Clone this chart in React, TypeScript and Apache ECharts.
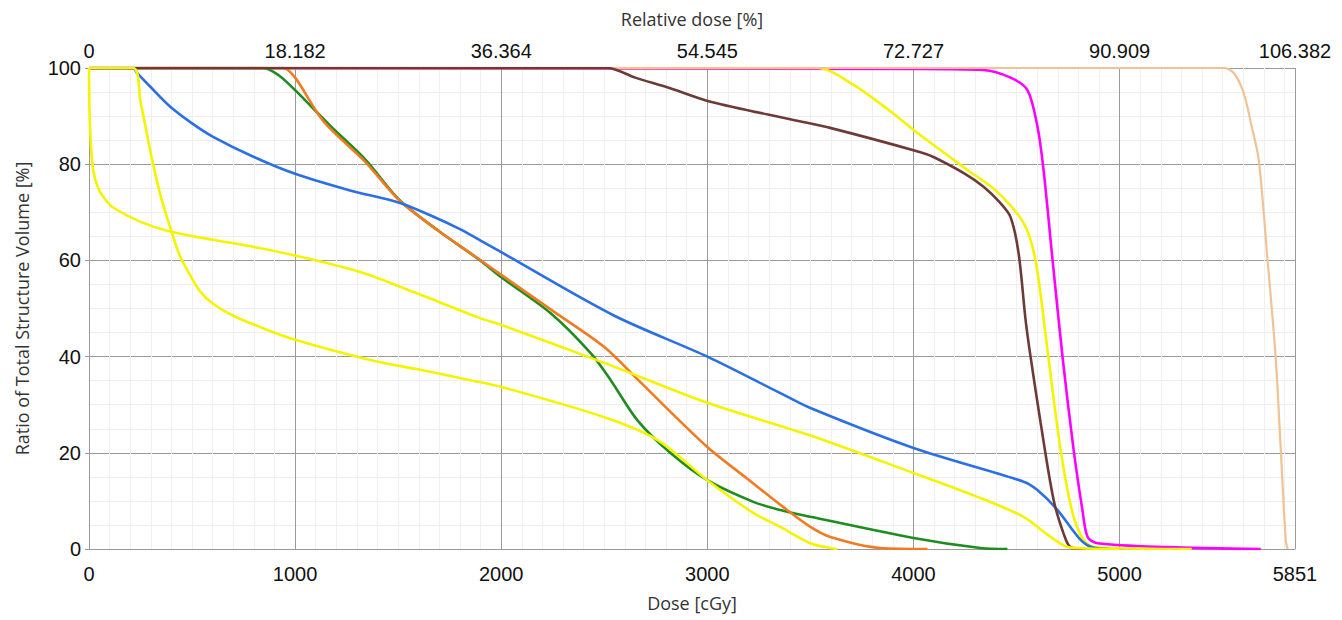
import React, { useEffect, useRef } from "react";
import * as echarts from "echarts";

// Dose axis (cGy)
const doseMax = 5851;
const doseTickStep = 1000;
const prescriptionDose = 5500; // 100 % relative dose
const volumeTicks = [0, 20, 40, 60, 80, 100];
const relativeTickLabels = ["0", "18.182", "36.364", "54.545", "72.727", "90.909", "106.382"];
const relativeTickDoses = [0, 1000, 2000, 3000, 4000, 5000, 5851];

// DVH curves: [dose cGy, volume %]
const yellowA: [number, number][] = [
  [0, 100], [2, 92], [8, 85], [20, 78.8], [45, 75], [80, 72.6], [117, 71], [250, 68], [393, 66],
  [600, 64.3], [800, 62.8], [1000, 61], [1330, 57.4], [1600, 53], [1898, 48], [2000, 46.6],
  [2500, 38.7], [3000, 30.4], [3500, 23.6], [4000, 15.8], [4300, 11], [4534, 6.7],
  [4650, 3], [4748, 0.4], [4850, 0.1], [5000, 0],
];
const yellowB: [number, number][] = [
  [0, 100], [214, 100], [250, 93], [306, 81], [350, 73], [393, 67], [440, 61], [490, 57],
  [540, 53.5], [602, 51], [700, 48.5], [850, 45.8], [1000, 43.5], [1364, 39.3], [1600, 37.3],
  [1850, 35.1], [2000, 33.7], [2500, 27.4], [2757, 22.7], [3000, 14.3], [3223, 7.5], [3354, 4.6],
  [3500, 1.2], [3597, 0.2], [3630, 0],
];
const yellowC: [number, number][] = [
  [0, 100], [3534, 100], [3709, 96.5], [3888, 91], [4034, 86], [4262, 78.8], [4400, 74.5],
  [4534, 67.8], [4592, 60], [4650, 41.4], [4714, 20.6], [4777, 6.7], [4850, 0.8], [4950, 0.2],
  [5350, 0],
];
const blue: [number, number][] = [
  [0, 100], [214, 100], [233, 99], [300, 96], [393, 92], [500, 88.5], [602, 85.7], [800, 81.5],
  [1000, 78], [1262, 74.6], [1505, 72], [1650, 69.5], [1800, 66.5], [1900, 64.1], [2000, 61.7],
  [2544, 48.6], [3000, 40], [3354, 32.4], [3500, 29.3], [4000, 21], [4534, 14], [4600, 12.3],
  [4699, 8.1], [4811, 1.9], [4870, 0.3], [4950, 0],
];
const green: [number, number][] = [
  [0, 100], [845, 100], [920, 98.5], [1000, 95.4], [1170, 88], [1340, 81], [1505, 72.6],
  [1700, 66], [1898, 60], [2000, 56.5], [2240, 49], [2434, 40.7], [2531, 35.1], [2660, 26.8],
  [2820, 20], [3000, 14.3], [3223, 9.8], [3354, 8.1], [3500, 6.7], [4000, 2.3], [4325, 0.2],
  [4456, 0],
];
const orange: [number, number][] = [
  [0, 100], [940, 100], [1000, 98], [1136, 89], [1340, 80.5], [1505, 72.5], [1700, 66],
  [1850, 61.5], [2000, 57], [2257, 49.3], [2500, 42], [2665, 35.1], [3000, 21.2], [3194, 14.6],
  [3369, 8.7], [3500, 4.6], [3597, 2.5], [3840, 0.2], [4068, 0],
];
const brown: [number, number][] = [
  [0, 100], [2515, 100], [2650, 98], [2820, 95.8], [3015, 93], [3418, 89.2], [3600, 87.5],
  [4034, 82.5], [4097, 81.5], [4250, 78], [4340, 75.3], [4420, 72], [4471, 69], [4510, 61.5],
  [4544, 47.6], [4568, 40], [4617, 26.2], [4680, 10.2], [4730, 3], [4762, 0.4], [4835, 0],
];
const magenta: [number, number][] = [
  [0, 100], [4000, 99.8], [4340, 99.6], [4471, 98], [4553, 95.4], [4602, 87.7], [4631, 78.8],
  [4675, 60], [4723, 40], [4777, 20.6], [4820, 8], [4845, 2.5], [4893, 1.2], [5233, 0.4],
  [5685, 0],
];
const peach: [number, number][] = [
  [0, 100], [5505, 100], [5553, 99], [5602, 94.8], [5640, 88], [5675, 80.9], [5718, 60],
  [5757, 40], [5782, 20.6], [5806, 1.9], [5815, 0],
];

const curves = [
  { name: "Magenta", data: magenta, color: "#ff00ff", width: 2.6 },
  { name: "Yellow C", data: yellowC, color: "#f4f400", width: 2.6 },
  { name: "Green", data: green, color: "#1e8c1e", width: 2.6 },
  { name: "Orange", data: orange, color: "#f07b22", width: 2.6 },
  { name: "Blue", data: blue, color: "#2a6fe6", width: 2.6 },
  { name: "Peach", data: peach, color: "#f2c294", width: 2.2 },
  { name: "Brown", data: brown, color: "#6e3a38", width: 2.6 },
  { name: "Yellow A", data: yellowA, color: "#f4f400", width: 2.6 },
  { name: "Yellow B", data: yellowB, color: "#f4f400", width: 2.6 },
];

const tickFont = "'Liberation Sans', Arial, sans-serif";
const titleFont = "'Open Sans', 'Noto Sans', sans-serif";

export default function App() {
  const ref = useRef<HTMLDivElement>(null);
  useEffect(() => {
    if (!ref.current) return;
    const chart = echarts.init(ref.current, undefined, { renderer: "svg" });
    chart.setOption({
      animation: false,
      backgroundColor: "#ffffff",
      grid: { left: 89, right: 47, top: 68, bottom: 71, containLabel: false },
      xAxis: [
        {
          type: "value",
          position: "bottom",
          min: 0,
          max: doseMax,
          interval: doseTickStep,
          name: "Dose [cGy]",
          nameLocation: "middle",
          nameGap: 45,
          nameTextStyle: { fontFamily: titleFont, fontSize: 18, color: "#333" },
          axisLine: { show: true, lineStyle: { color: "#9a9a9a", width: 1 } },
          axisTick: { show: false },
          axisLabel: {
            margin: 15,
            fontFamily: tickFont,
            fontSize: 20,
            color: "#111",
            showMaxLabel: true,
            showMinLabel: true,
            formatter: (v: number) => String(Math.round(v)),
          },
          splitLine: { show: true, lineStyle: { color: "#9a9a9a", width: 1 } },
          minorTick: { show: false, splitNumber: 10 },
          minorSplitLine: { show: true, lineStyle: { color: "#f0f0f0", width: 1 } },
        },
        {
          type: "value",
          position: "top",
          min: 0,
          max: doseMax,
          interval: doseTickStep,
          name: "Relative dose [%]",
          nameLocation: "middle",
          nameGap: 40,
          nameTextStyle: { fontFamily: titleFont, fontSize: 18, color: "#333" },
          axisLine: { show: false },
          axisTick: { show: false },
          axisLabel: {
            margin: 7,
            fontFamily: tickFont,
            fontSize: 20,
            color: "#111",
            showMaxLabel: true,
            showMinLabel: true,
            formatter: (v: number) => {
              const i = relativeTickDoses.indexOf(Math.round(v));
              return i >= 0 ? relativeTickLabels[i] : (v / prescriptionDose * 100).toFixed(3);
            },
          },
          splitLine: { show: false },
        },
      ],
      yAxis: {
        type: "value",
        min: volumeTicks[0],
        max: volumeTicks[volumeTicks.length - 1],
        interval: volumeTicks[1] - volumeTicks[0],
        name: "Ratio of Total Structure Volume [%]",
        nameLocation: "middle",
        nameGap: 58,
        nameTextStyle: { fontFamily: titleFont, fontSize: 18, color: "#333" },
        axisLine: { show: true, lineStyle: { color: "#9a9a9a", width: 1 } },
        axisTick: { show: true, length: 4, lineStyle: { color: "#9a9a9a" } },
        axisLabel: { margin: 8, fontFamily: tickFont, fontSize: 20, color: "#111" },
        splitLine: { show: true, lineStyle: { color: "#9a9a9a", width: 1 } },
        minorTick: { show: false, splitNumber: 4 },
        minorSplitLine: { show: true, lineStyle: { color: "#eeeeee", width: 1 } },
      },
      series: curves.map((c) => ({
        name: c.name,
        type: "line",
        xAxisIndex: 0,
        data: c.data,
        showSymbol: false,
        smooth: 0.3,
        lineStyle: { color: c.color, width: c.width },
        itemStyle: { color: c.color },
        emphasis: { disabled: true },
      })),
    });
    return () => chart.dispose();
  }, []);
  return <div ref={ref} style={{ width: 1342, height: 620, position: "absolute", left: 0, top: 0 }} />;
}
